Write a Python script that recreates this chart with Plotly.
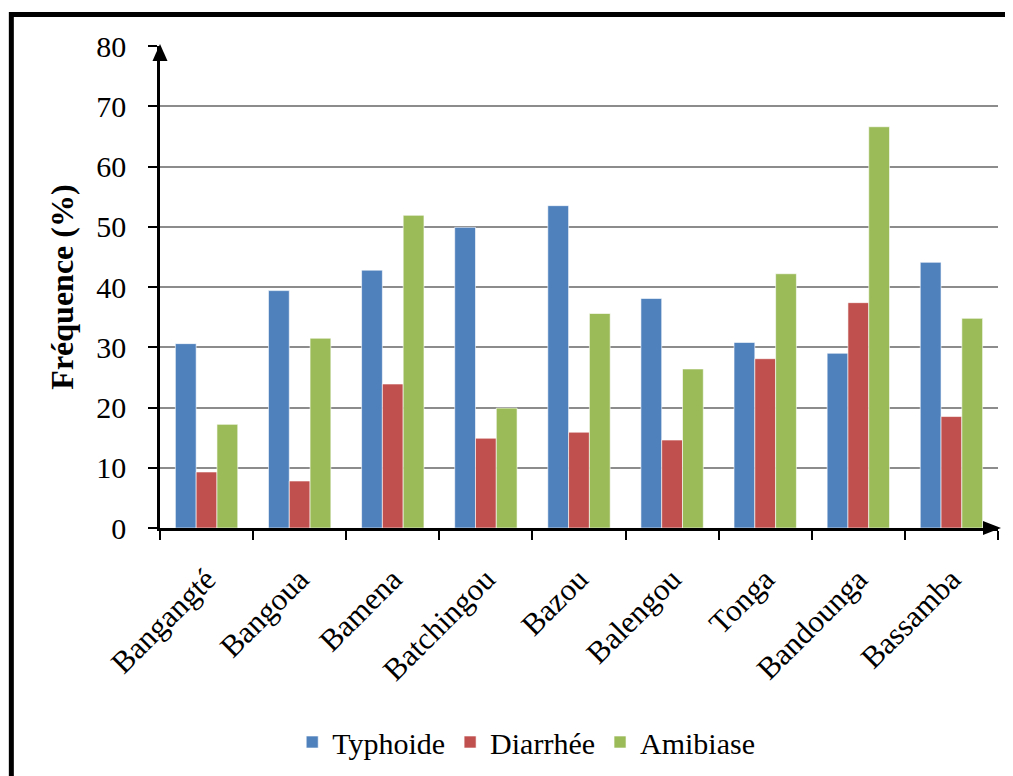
import plotly.graph_objs as go

# villages and disease frequencies (%)
villages = ['Bangangté', 'Bangoua', 'Bamena', 'Batchingou', 'Bazou',
            'Balengou', 'Tonga', 'Bandounga', 'Bassamba']
typhoide = [30.6, 39.4, 42.8, 49.9, 53.5, 38.1, 30.8, 29.0, 44.1]
diarrhee = [9.3, 7.8, 23.9, 14.9, 15.9, 14.6, 28.1, 37.4, 18.5]
amibiase = [17.2, 31.5, 51.9, 19.9, 35.6, 26.4, 42.2, 66.6, 34.8]
y_ticks = [0, 10, 20, 30, 40, 50, 60, 70, 80]

FONT = 'Liberation Serif, Times New Roman, serif'

fig = go.Figure()
fig.add_trace(go.Bar(x=villages, y=typhoide, name='Typhoide', marker_color='#4F81BD',
                     marker_line=dict(color='rgba(255,255,255,0.6)', width=1)))
fig.add_trace(go.Bar(x=villages, y=diarrhee, name='Diarrhée', marker_color='#C0504D',
                     marker_line=dict(color='rgba(255,255,255,0.6)', width=1)))
fig.add_trace(go.Bar(x=villages, y=amibiase, name='Amibiase', marker_color='#9BBB59',
                     marker_line=dict(color='rgba(255,255,255,0.6)', width=1)))

fig.update_xaxes(showline=True, linecolor='black', linewidth=2.5,
                 ticks='outside', ticklen=9, tickwidth=2, tickcolor='black',
                 tickson='boundaries', tickangle=-45, ticklabelstandoff=18,
                 tickfont=dict(family=FONT, size=31, color='black'))
fig.update_yaxes(range=[0, 80], tickvals=y_ticks, showline=True, linecolor='black',
                 linewidth=2.5, ticks='outside', ticklen=9, tickwidth=2, tickcolor='black',
                 ticklabelstandoff=16, showgrid=True, gridcolor='#8c8c8c', gridwidth=1.5,
                 zeroline=False,
                 tickfont=dict(family=FONT, size=30, color='black'),
                 title=dict(text='<b>Fréquence (%)</b>', standoff=14,
                            font=dict(family=FONT, size=32, color='black')))

# axis arrows
fig.add_shape(type='path', xref='paper', yref='paper', xsizemode='pixel', ysizemode='pixel',
              xanchor=0, yanchor=1, path='M0,2 L-7.5,-15 L7.5,-15 Z',
              fillcolor='black', line_width=0)
fig.add_shape(type='path', xref='paper', yref='paper', xsizemode='pixel', ysizemode='pixel',
              xanchor=1, yanchor=0, path='M3,0 L-15,7 L-15,-7 Z',
              fillcolor='black', line_width=0)

# outer frame
fig.add_shape(type='rect', xref='paper', yref='paper',
              x0=-0.1774, y0=-0.6, x1=1.1, y1=1.0653,
              line=dict(color='black', width=5), fillcolor='rgba(0,0,0,0)')

# page body adds an 8px offset, so margins are trimmed to compensate
fig.update_layout(width=1013, height=776,
                  margin=dict(l=152, r=23, t=38, b=256),
                  barmode='group', bargap=0.33, bargroupgap=0,
                  plot_bgcolor='white', paper_bgcolor='white',
                  font=dict(family=FONT, color='black'),
                  legend=dict(orientation='h', x=0.437, xanchor='center',
                              y=-0.444, yanchor='middle',
                              font=dict(family=FONT, size=30, color='black')))

fig.write_html("out.html")
